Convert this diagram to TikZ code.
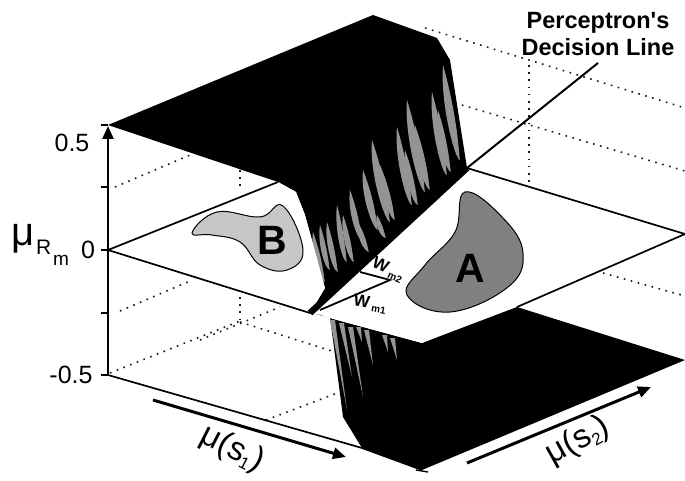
\documentclass[tikz,border=0pt]{standalone}
\usepackage{fontspec}
\setmainfont{Liberation Sans}
\usetikzlibrary{arrows.meta}
\tikzset{
  grid dots/.style={line width=1.6pt,dash pattern=on 1.6pt off 5.6pt,black!90},
  edge line/.style={line width=1.7pt,black},
  arrow line/.style={line width=3pt,-{Triangle[length=13pt,width=11pt]}},
  streak/.style={fill=black!42,draw=none},
  lab/.style={inner sep=0pt,outer sep=0pt},
  tick line/.style={line width=1.4pt},
}
\newcommand{\fs}[1]{\fontsize{#1}{#1}\selectfont}
\begin{document}
\begin{tikzpicture}[x=1pt,y=-1pt]
\useasboundingbox (0,0) rectangle (685,481);
\fill[white] (0,0) rectangle (685,481);
% dotted back grid
\draw[grid dots] (425,28) -- (685,108);
\draw[grid dots] (455,103) -- (685,171);
\draw[grid dots] (529,65) -- (529,182);
\draw[grid dots] (115,187) -- (190,155);
\draw[grid dots] (240,170) -- (240,190);
\draw[grid dots] (120,311) -- (190,281);
\draw[grid dots] (240,297) -- (240,322);
\draw[grid dots] (200,340) -- (280,307);
\draw[grid dots] (240,322) -- (335,352);
\draw[grid dots] (110,373) -- (240,321);
\draw[grid dots] (266,420) -- (340,392);
\draw[grid dots] (603,273) -- (685,296);
% upper black surface
\fill[black] (108,125) -- (373,15) -- (437,38) -- (450,60) -- (467,168)
  -- (310,313) -- (325,288) -- (316,255) -- (305,215) -- (296,192) -- (278,182) -- cycle;
% lower black surface
\fill[black] (316,314) -- (422,343) -- (517,307) -- (685,360) -- (422,470)
  -- (362,448) -- (343,417) -- (330,317) -- cycle;
% gray streaks, upper
\foreach \tx/\ty/\bx/\by in {443/65/460/160,432/92/447/175,438/110/451/172,407/100/425/192,415/125/430/190,397/127/412/205,405/150/418/205,372/140/390/222,
  380/165/395/220,363/170/378/230,350/190/362/240,337/205/347/262,313/232/325/282,320/225/330/270,327/222/338/272,343/215/354/262,358/222/369/252,377/215/386/238}{
  \fill[streak] (\tx,\ty) .. controls (\bx-1,\ty*0.4+\by*0.6) and (\bx-1,\by) .. (\bx,\by)
     .. controls (\bx-5,\by) and (\tx-3,\ty*0.6+\by*0.4) .. (\tx,\ty) -- cycle;
}
% gray streaks, lower
\foreach \tx/\ty/\bx/\by in {332/320/347/410,341/323/352/377,350/327/363/397,358/327/362/342,366/330/373/365,392/338/397/360,384/335/388/352}{
  \fill[streak] (\tx-2,\ty) -- (\tx+3,\ty) -- (\bx,\by) -- cycle;
}
% planes
\fill[white] (108,250) -- (278,182) -- (296,192) -- (305,215) -- (316,255) -- (325,288) -- (310,313) -- cycle;
\fill[white] (467,168) -- (685,234) -- (422,343) -- (322,316) -- cycle;
\draw[edge line] (108,250) -- (278,182);
\draw[edge line] (108,250) -- (310,313);
\draw[edge line] (467,168) -- (685,234) -- (517,307);
% regions
\draw[line width=1pt,fill=black!22] plot[smooth cycle,tension=0.7] coordinates
  {(192,233) (217,212) (260,217) (283,206) (303,250) (287,270) (260,265) (240,242) (212,235)};
\draw[line width=1pt,fill=black!50] plot[smooth cycle,tension=0.7] coordinates
  {(465,192) (503,218) (523,253) (508,287) (450,312) (407,295) (425,265) (455,232)};
% decision line
\draw[line width=2pt] (467,168) -- (598,63);
\draw[line width=6.5pt] (467,168) -- (310,313);
\draw[line width=1.8pt] (320,310) -- (390,280) -- (360,272);
\draw[edge line] (108,375) -- (362,448) -- (422,470);
% axis
\draw[line width=2.6pt,-{Triangle[length=13pt,width=11pt]}] (108,375) -- (108,126);
\foreach \ya in {125,187,250,313,375}{\draw[tick line] (101,\ya) -- (108,\ya);}
\draw[tick line] (416,470) -- (428,472);
% arrows
\coordinate (aS) at (153,400); \coordinate (aE) at (346,457);
\coordinate (bS) at (467,463); \coordinate (bE) at (651,387);
\draw[arrow line] (aS) -- (aE);
\draw[arrow line] (bS) -- (bE);
% labels
\node[lab] (tA) at (470,268) {\bfseries\fs{41}A};
\node[lab] (tB) at (272,240) {\bfseries\fs{41}B};
\node[lab] (t1) at (598,23) {\bfseries\fs{23.5}Perceptron\textquotesingle s};
\node[lab] (t2) at (598,47) {\bfseries\fs{23.5}Decision Line};
\node[lab] (v1) at (72,143) {\fs{25}0.5};
\node[lab] (v2) at (88,250) {\fs{25}0};
\node[lab] (v3) at (71,375) {\fs{25}-0.5};
\node[lab,anchor=base west] (mu) at (11,245) {\fs{40}μ};
\node[lab,anchor=base west] (mr) at (36,254) {\fs{21}R};
\node[lab,anchor=base west] (mm) at (53,265) {\fs{19}m};
\node[lab,rotate=-10] (w1) at (370,304) {\bfseries\fs{17}W\,\raisebox{-3pt}{\fs{10}m1}};
\node[lab,rotate=-25] (w2) at (388,270) {\bfseries\fs{17}W\,\raisebox{-3pt}{\fs{10}m2}};
\node[lab,rotate=-27] (s1) at (232,449) {\fs{33}μ(s\raisebox{-5pt}{\fs{17}1})};
\node[lab,rotate=29] (s2) at (578,441) {\fs{33}μ(s\raisebox{-5pt}{\fs{17}2})};
\end{tikzpicture}
\end{document}
